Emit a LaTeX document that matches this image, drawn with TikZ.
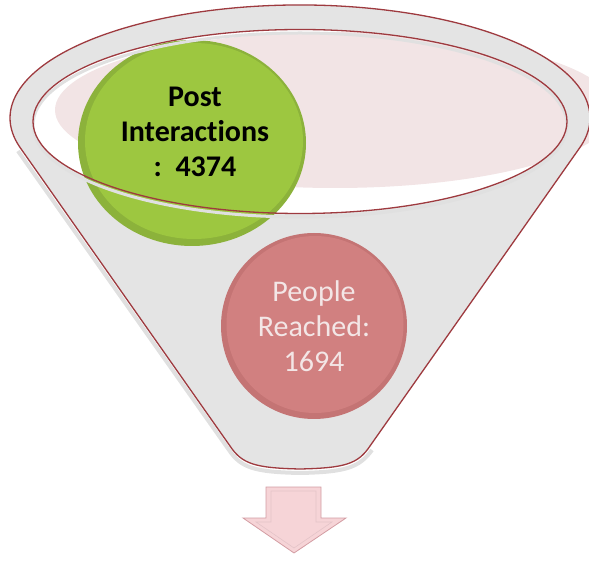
\documentclass[tikz,border=0pt]{standalone}
\usepackage{fontspec}
\setmainfont{Carlito}[Ligatures=NoCommon]
\usetikzlibrary{positioning, shapes.geometric}
\definecolor{rimred}{HTML}{9E3A3F}
\definecolor{funnelgray}{HTML}{E4E4E4}
\definecolor{shadepink}{HTML}{F2E4E5}
\definecolor{leafgreen}{HTML}{9DC740}
\definecolor{leafdark}{HTML}{8CB23B}
\definecolor{rosepink}{HTML}{D18080}
\definecolor{rosedark}{HTML}{C47474}
\definecolor{rosetext}{HTML}{F3E6E6}
\definecolor{arrowpink}{HTML}{F6D4D7}
\definecolor{arrowedge}{HTML}{D39DA3}

\begin{document}
\begin{tikzpicture}[x=1pt, y=1pt,
    rim/.style={draw=rimred, line width=1.3pt},
    leaf/.style={ellipse, minimum width=228pt, minimum height=206pt, inner sep=0pt, fill=leafdark},
    rose/.style={circle, minimum size=186pt, inner sep=0pt, fill=rosedark},
    caption/.style={align=center, font=\fontsize{30}{35}\selectfont}]
  \useasboundingbox (0,0) rectangle (589,560);

  % pink reflection behind the opening
  \fill[shadepink] (335,450) ellipse [x radius=280pt, y radius=78pt];

  % soft shadow round the funnel
  \draw[black!12, line width=4pt] (18,409) -- (229,110) .. controls (241,92) and (255,88) .. (300,87)
    .. controls (345,88) and (359,92) .. (372,110);

  % funnel body with the opening cut out
  \fill[funnelgray, even odd rule]
    (579.7,412.2) arc[start angle=-15.3, end angle=195.3, x radius=290pt, y radius=113pt]
    -- (230,114) .. controls (242,96) and (255,92) .. (300,91)
    .. controls (345,92) and (358,96) .. (370,114) -- cycle
    (300,438.5) ellipse [x radius=267pt, y radius=92pt];

  % stages
  \node[leaf] (post) at (192,417) {};
  \fill[leafgreen] ([xshift=2pt, yshift=2pt]post.center) ellipse [x radius=109pt, y radius=98pt];
  \node[caption, font=\fontsize{30}{35}\selectfont\bfseries] (postlabel) at (195,428) {Post\\Interactions\\:\ \ 4374};

  \node[rose] (reach) at (314,234) {};
  \fill[rosepink] ([xshift=1pt, yshift=1.5pt]reach.center) circle (88.5pt);
  \node[caption, text=rosetext] (reachlabel) at (reach.center) {People\\Reached:\\1694};

  % outlines on top
  \draw[black!12, line width=3pt] (300,435) ellipse [x radius=267pt, y radius=92pt];
  \draw[rim] (579.7,412.2) arc[start angle=-15.3, end angle=195.3, x radius=290pt, y radius=113pt]
    -- (230,114) .. controls (242,96) and (255,92) .. (300,91)
    .. controls (345,92) and (358,96) .. (370,114) -- cycle;
  \draw[rim] (300,438.5) ellipse [x radius=267pt, y radius=92pt];

  % output arrow
  \filldraw[fill=arrowpink, draw=arrowedge, line width=0.8pt]
    (266,73) -- (321,73) -- (321,42) -- (346,42) -- (294,7) -- (243,42) -- (266,42) -- cycle;
  \draw[arrowedge!60, line width=0.6pt]
    (271,69) -- (316,69) -- (316,38) -- (332,38) -- (294,12) -- (256,38) -- (271,38) -- cycle;
\end{tikzpicture}
\end{document}
